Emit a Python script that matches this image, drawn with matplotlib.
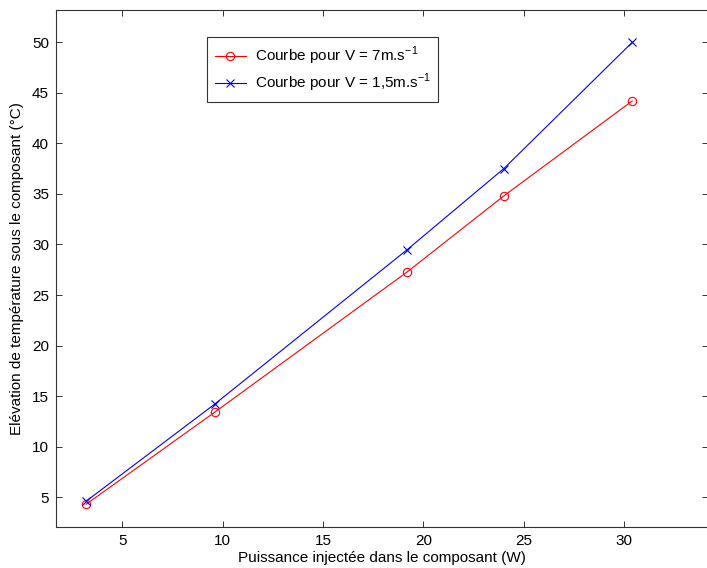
import numpy as np
import matplotlib
matplotlib.use("Agg")
from matplotlib import pyplot as plt

plt.rcParams['font.family'] = ['Liberation Sans', 'DejaVu Sans']

# donnees
puissance = [3.2, 9.6, 19.2, 24.0, 30.4]
temp_v7 = [4.3, 13.4, 27.3, 34.8, 44.2]
temp_v15 = [4.6, 14.2, 29.5, 37.5, 50.0]

fig = plt.figure(figsize=(7.07, 5.68), dpi=100)
ax = fig.add_axes([56/707, 1 - 527/568, 652.5/707, 517/568])

ax.plot(puissance, temp_v7, color='red', lw=0.8, marker='o', ms=6,
        mfc='none', mec='red', mew=0.8, label=r'Courbe pour V = 7m.s$^{\mathregular{-1}}$')
ax.plot(puissance, temp_v15, color='blue', lw=0.8, marker='x', ms=5.5,
        mec='blue', mew=0.8, label=r'Courbe pour V = 1,5m.s$^{\mathregular{-1}}$')

ax.set_xlim(1.7, 34.2)
ax.set_ylim(2.05, 53.2)
ax.set_xticks([5, 10, 15, 20, 25, 30])
ax.set_yticks([5, 10, 15, 20, 25, 30, 35, 40, 45, 50])
ax.tick_params(direction='in', top=True, right=True, length=4.5, width=0.7,
               labelsize=11, colors='#333333', labelcolor='black', pad=5)
for s in ax.spines.values():
    s.set_color('#333333')
    s.set_linewidth(0.8)

ax.set_xlabel('Puissance injectée dans le composant (W)', fontsize=11, labelpad=2)
ax.set_ylabel('Elévation de température sous le composant (°C)', fontsize=11, labelpad=6)

leg = ax.legend(loc='upper left', bbox_to_anchor=(0.232, 0.947), borderaxespad=0,
                fancybox=False, edgecolor='#333333', fontsize=11, handlelength=2.0,
                handletextpad=0.6, borderpad=0.5, labelspacing=0.3, framealpha=1)
leg.get_frame().set_linewidth(0.8)

plt.savefig('out.png', dpi=100)
